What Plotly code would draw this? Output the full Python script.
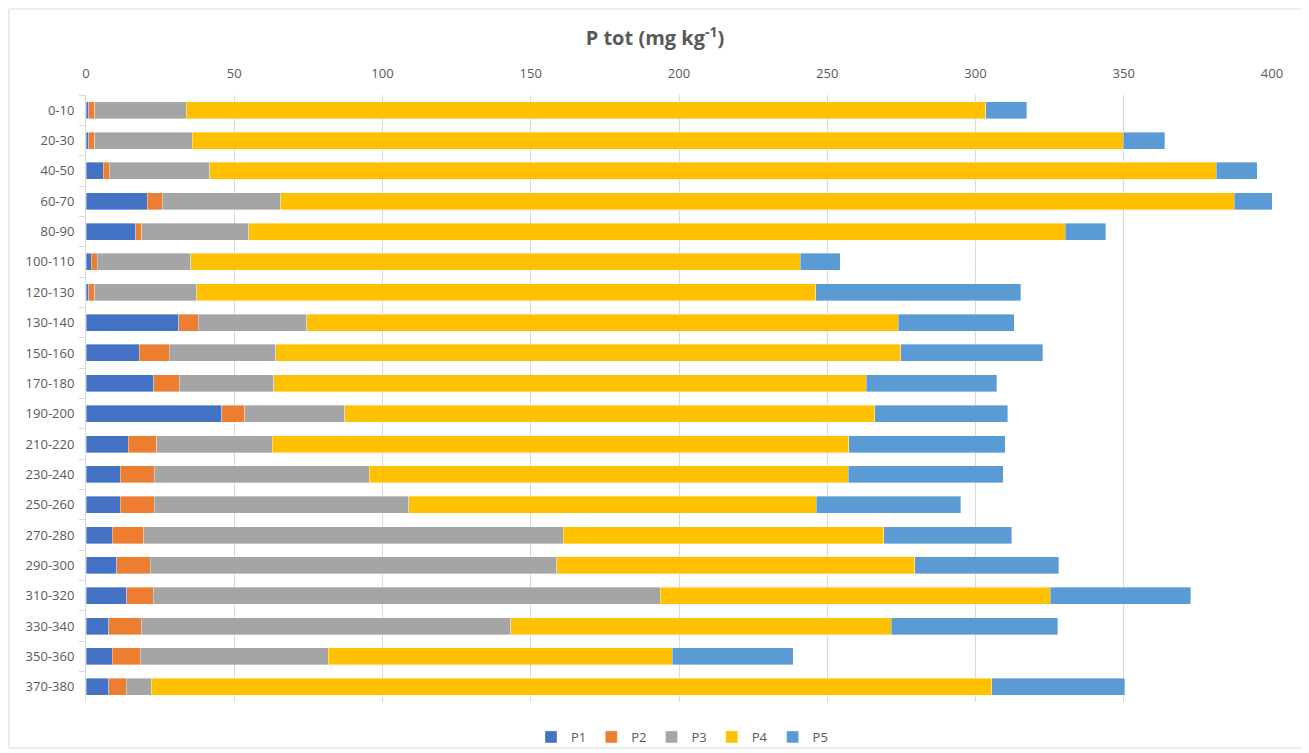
import plotly.graph_objects as go

categories = ["0-10", "20-30", "40-50", "60-70", "80-90", "100-110", "120-130", "130-140",
              "150-160", "170-180", "190-200", "210-220", "230-240", "250-260", "270-280",
              "290-300", "310-320", "330-340", "350-360", "370-380"]

P1 = [0.9, 0.9, 5.8, 20.7, 16.8, 1.8, 0.9, 31.2, 18.0, 22.9, 45.8, 14.2, 11.5, 11.5, 8.8, 10.3, 13.8, 7.7, 8.8, 7.7]
P2 = [2.05, 2.05, 2.1, 5.0, 2.0, 2.05, 2.05, 6.7, 10.1, 8.6, 7.7, 9.7, 11.5, 11.5, 10.6, 11.4, 8.9, 10.9, 9.5, 5.9]
P3 = [30.85, 32.85, 33.8, 40.0, 36.1, 31.45, 34.35, 36.6, 35.9, 31.9, 33.7, 38.9, 72.5, 85.8, 141.6, 137.0, 171.0, 124.6, 63.4, 8.4]
P4 = [269.6, 314.1, 339.5, 321.6, 275.3, 205.6, 208.8, 199.4, 210.8, 199.7, 178.8, 194.5, 161.6, 137.5, 108.0, 120.8, 131.5, 128.3, 116.1, 283.5]
P5 = [13.9, 13.9, 13.8, 12.9, 13.8, 13.5, 69.1, 39.1, 47.9, 44.0, 44.9, 52.7, 52.3, 48.7, 43.3, 48.5, 47.4, 56.3, 40.7, 44.8]

series = [("P1", P1, "#4472C4"), ("P2", P2, "#ED7D31"), ("P3", P3, "#A5A5A5"),
          ("P4", P4, "#FFC000"), ("P5", P5, "#5B9BD5")]

fig = go.Figure()
for name, vals, color in series:
    fig.add_trace(go.Bar(
        name=name, y=categories, x=vals, orientation="h",
        marker=dict(color=color, line=dict(color="rgba(255,255,255,0.6)", width=0.6)),
    ))

FONT = "Open Sans, Liberation Sans, sans-serif"

# page body has an 8px margin; figure coordinates = screen - 8
OFF = 8
W, H = 1309 - OFF, 753 - OFF
L, T = 86 - OFF, 95 - OFF
R = W - (1272 - OFF)
B = H - (702 - OFF)
pw, ph = W - L - R, H - T - B

def px2paper_x(x):
    return (x - OFF - L) / pw

def px2paper_y(y):
    return (H - B - (y - OFF)) / ph

fig.update_layout(
    width=W, height=H,
    barmode="stack",
    bargap=0.44,
    paper_bgcolor="white",
    plot_bgcolor="white",
    margin=dict(l=L, r=R, t=T, b=B),
    font=dict(family=FONT, color="#595959", size=13),
    title=dict(
        text="<b>P tot (mg kg<sup>-1</sup>)</b>",
        x=(655 - OFF) / W, xref="container", xanchor="center",
        y=1 - (38 - OFF) / H, yref="container", yanchor="middle",
        font=dict(family=FONT, size=20, color="#595959"),
    ),
    xaxis=dict(
        side="top", range=[0, 400], dtick=50, tick0=0,
        showgrid=True, gridcolor="#d9d9d9", gridwidth=1,
        zeroline=False, showline=False,
        ticks="", ticklabelstandoff=13,
        tickfont=dict(size=13, color="#595959"),
    ),
    yaxis=dict(
        autorange="reversed", type="category",
        showgrid=False, showline=True, linecolor="#d9d9d9", linewidth=1,
        ticks="outside", tickson="boundaries", ticklen=6, tickcolor="#d9d9d9",
        tickfont=dict(size=13, color="#595959"),
        ticklabelstandoff=8,
    ),
    legend=dict(
        orientation="h", x=(682 - OFF) / W, xref="container", xanchor="center",
        y=1 - (737 - OFF) / H, yref="container", yanchor="middle",
        font=dict(size=13, color="#595959"),
        bgcolor="rgba(0,0,0,0)",
        itemwidth=30, traceorder="normal",
    ),
    shapes=[dict(
        type="rect", xref="paper", yref="paper",
        x0=px2paper_x(9), x1=px2paper_x(1302),
        y0=px2paper_y(748), y1=px2paper_y(9),
        line=dict(color="#d9d9d9", width=1), fillcolor="rgba(0,0,0,0)", layer="below",
    )],
)

fig.write_html("out.html")
